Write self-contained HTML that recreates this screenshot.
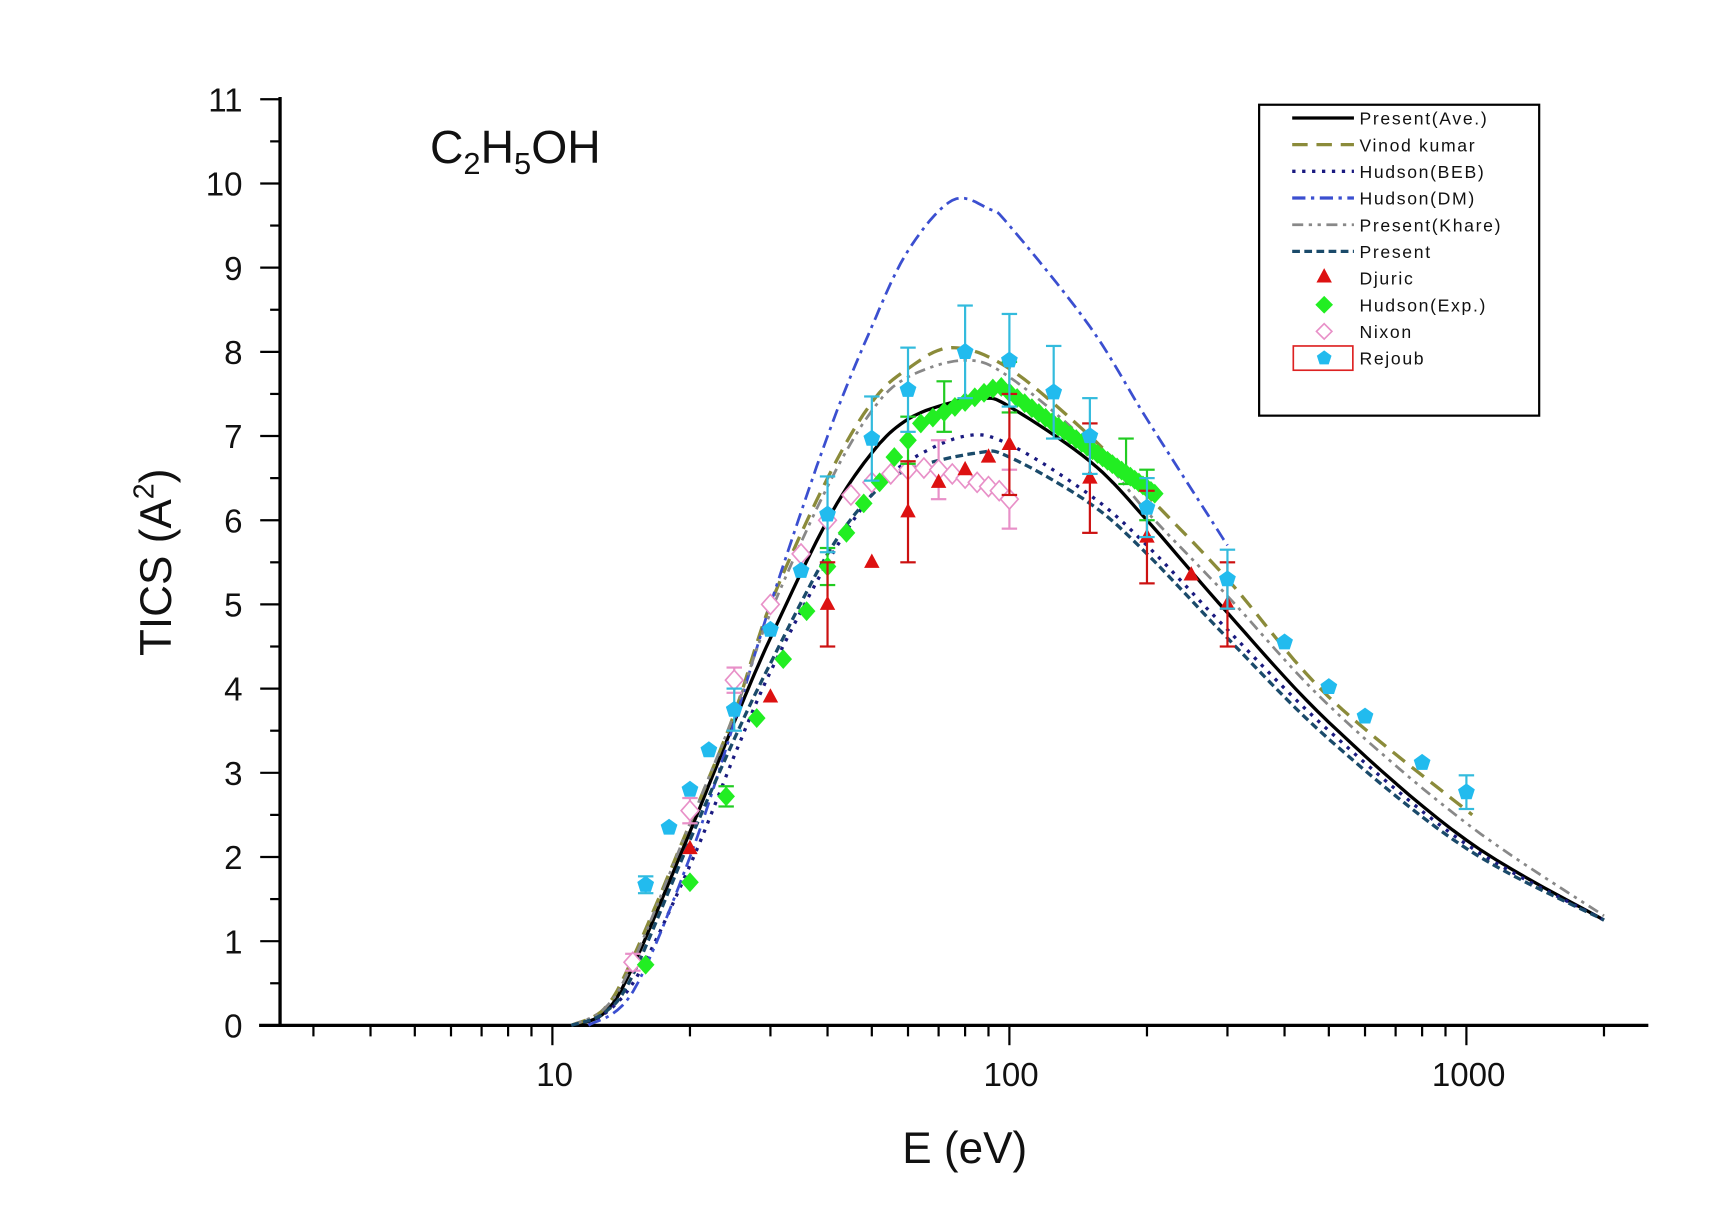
<!DOCTYPE html>
<html><head><meta charset="utf-8"><style>
html,body{margin:0;padding:0;background:#fff;width:1720px;height:1215px;overflow:hidden}
svg{display:block}
text{font-family:"Liberation Sans",Arial,sans-serif;fill:#111}
</style></head><body>
<svg id="s" width="1720" height="1215" viewBox="0 0 1560 1102" preserveAspectRatio="none" xmlns="http://www.w3.org/2000/svg">
<rect width="1560" height="1102" fill="#fff"/>
<g id="axes" stroke="#000" stroke-width="3" fill="none">
<line x1="254" y1="88" x2="254" y2="931"/>
<line x1="235" y1="930" x2="1495" y2="930"/>
</g>
<g id="ticks" stroke="#000" stroke-width="2"></g>
<g id="curves" fill="none"></g>
<g id="pts"></g>
<g font-size="30" text-anchor="end" id="ylab"></g>
<g font-size="30" text-anchor="middle">
<text x="503" y="985">10</text><text x="917" y="985">100</text><text x="1332" y="985">1000</text>
</g>
<text x="875" y="1055" font-size="40" text-anchor="middle">E (eV)</text>
<text transform="translate(155,510) rotate(-90)" font-size="40" text-anchor="middle">TICS (A<tspan font-size="26" dy="-16">2</tspan><tspan dy="16">)</tspan></text>
<text x="390" y="148" font-size="42">C<tspan font-size="28" dy="10">2</tspan><tspan dy="-10">H</tspan><tspan font-size="28" dy="10">5</tspan><tspan dy="-10">OH</tspan></text>
<g id="legend">
<rect x="1142" y="95" width="254" height="282" fill="#fff" stroke="#000" stroke-width="2"/>
</g>
</svg>
<script>
const NS="http://www.w3.org/2000/svg";
function X(E){return 501+414.5*Math.log10(E/10);}
function Y(v){return 930-76.36*v;}
function el(p,t,a){const e=document.createElementNS(NS,t);for(const k in a)e.setAttribute(k,a[k]);p.appendChild(e);return e;}
const tk=document.getElementById('ticks'),yl=document.getElementById('ylab');
for(let v=0;v<=11;v++){el(tk,'line',{x1:236,x2:254,y1:Y(v),y2:Y(v)});const t=el(yl,'text',{x:220,y:Y(v)+11});t.textContent=v;
 if(v<11)el(tk,'line',{x1:245,x2:254,y1:Y(v+0.5),y2:Y(v+0.5)});}
for(let d=1;d<=1000;d*=10)for(let m=1;m<10;m++){const E=d*m;if(E<3||E>2000)continue;const x=X(E);
 const maj=(m==1);el(tk,'line',{x1:x,x2:x,y1:930,y2:maj?948:940});}
function curve(pts,style){
 const P=pts.map(p=>[Math.log10(p[0]),p[1]]);let d="";
 for(let i=0;i<P.length-1;i++){const p0=P[Math.max(0,i-1)],p1=P[i],p2=P[i+1],p3=P[Math.min(P.length-1,i+2)];
  for(let s=0;s<=10;s++){const t=s/10,t2=t*t,t3=t2*t;
   const f=(a,b,c,e)=>0.5*((2*b)+(-a+c)*t+(2*a-5*b+4*c-e)*t2+(-a+3*b-3*c+e)*t3);
   const lx=f(p0[0],p1[0],p2[0],p3[0]),ly=f(p0[1],p1[1],p2[1],p3[1]);
   d+=(d?"L":"M")+X(Math.pow(10,lx)).toFixed(1)+","+Y(Math.max(0,ly)).toFixed(1);}}
 const a=Object.assign({d:d},style);el(document.getElementById('curves'),'path',a);}
curve([[11,0],[13,0.15],[15,0.7],[20,2.3],[25,3.6],[30,4.6],[40,6.0],[50,6.8],[60,7.2],[75,7.4],[88,7.45],[100,7.35],[150,6.7],[200,6.0],[300,4.9],[500,3.6],[1000,2.2],[2000,1.25]],{stroke:"#000","stroke-width":3});
curve([[11,0],[13,0.2],[15,0.8],[20,2.4],[25,3.7],[30,5.0],[40,6.5],[50,7.4],[60,7.8],[75,8.05],[100,7.8],[150,7.0],[200,6.3],[300,5.3],[500,3.9],[1030,2.5]],{stroke:"#8b8b3a","stroke-width":3,"stroke-dasharray":"14 8"});
curve([[12,0],[15,0.5],[20,1.9],[25,3.2],[30,4.2],[40,5.5],[50,6.3],[60,6.7],[80,7.0],[100,6.9],[150,6.3],[200,5.7],[300,4.7],[500,3.5],[1000,2.15],[2000,1.25]],{stroke:"#1a1a80","stroke-width":3,"stroke-dasharray":"3 6"});
curve([[12,0],[15,0.4],[20,2.0],[25,3.6],[30,5.0],[40,7.0],[50,8.3],[60,9.2],[75,9.8],[90,9.7],[100,9.5],[150,8.3],[200,7.2],[300,5.7]],{stroke:"#3b4fd0","stroke-width":2.5,"stroke-dasharray":"12 5 3 5"});
curve([[11,0],[13,0.2],[15,0.75],[20,2.4],[25,3.7],[30,4.9],[40,6.4],[50,7.3],[60,7.7],[80,7.9],[100,7.7],[150,6.9],[200,6.1],[300,5.1],[500,3.8],[1000,2.4],[2000,1.3]],{stroke:"#888","stroke-width":2.5,"stroke-dasharray":"10 5 3 5 3 5"});
curve([[11,0],[13,0.15],[15,0.6],[20,2.2],[25,3.4],[30,4.3],[40,5.6],[50,6.3],[60,6.6],[85,6.8],[100,6.75],[150,6.2],[200,5.6],[300,4.6],[500,3.4],[1000,2.1],[2000,1.25]],{stroke:"#1a4a6a","stroke-width":3,"stroke-dasharray":"7 4"});
const pg=document.getElementById('pts');
function err(E,v,e,c){const x=X(E);el(pg,'line',{x1:x,x2:x,y1:Y(v-e),y2:Y(v+e),stroke:c,"stroke-width":2});
 el(pg,'line',{x1:x-7,x2:x+7,y1:Y(v-e),y2:Y(v-e),stroke:c,"stroke-width":2});el(pg,'line',{x1:x-7,x2:x+7,y1:Y(v+e),y2:Y(v+e),stroke:c,"stroke-width":2});}
function tri(g,x,y,c){el(g,'polygon',{points:`${x},${y-8} ${x-7},${y+5} ${x+7},${y+5}`,fill:c});}
function dia(x,y,f,s){el(pg,'polygon',{points:`${x},${y-9} ${x+8},${y} ${x},${y+9} ${x-8},${y}`,fill:f,stroke:s||"none","stroke-width":1.5});}
function pent(x,y,c){let p="";for(let i=0;i<5;i++){const a=-Math.PI/2+i*2*Math.PI/5;p+=(x+8*Math.cos(a))+","+(y+8*Math.sin(a))+" ";}el(pg,'polygon',{points:p,fill:c});}
[[15,0.75,0.1],[20,2.55,0.15],[25,4.1,0.15],[30,5.0,0],[35,5.6,0],[40,6.0,0],[45,6.3,0],[50,6.45,0],[55,6.55,0],[60,6.6,0],[65,6.62,0],[70,6.6,0.35],[75,6.55,0],[80,6.5,0],[85,6.45,0],[90,6.4,0],[95,6.35,0],[100,6.25,0.35]].forEach(p=>{if(p[2])err(p[0],p[1],p[2],"#e890c8");dia(X(p[0]),Y(p[1]),"#fff","#e890c8");});
const h=[[16,0.72],[20,1.7],[24,2.72],[28,3.65],[32,4.35],[36,4.92],[40,5.45],[44,5.85],[48,6.2],[52,6.45],[56,6.75],[60,6.95],[64,7.15]];
for(let E=68;E<=210;E+=4){const l=Math.log10(E);let v;if(E<=95)v=7.15+(7.6-7.15)*(l-Math.log10(64))/(Math.log10(95)-Math.log10(64));else v=7.6-(7.6-6.3)*(l-Math.log10(95))/(Math.log10(210)-Math.log10(95));h.push([E,v]);}
[[24,2.72,0.12],[40,5.45,0.22],[60,6.95,0.28],[72,7.35,0.3],[100,7.58,0.3],[180,6.7,0.27],[200,6.3,0.3]].forEach(p=>err(p[0],p[1],p[2],"#22cc22"));
h.forEach(p=>dia(X(p[0]),Y(p[1]),"#22ee22"));
[[40,5.0,0.5],[60,6.1,0.6],[100,6.9,0.6],[150,6.5,0.65],[200,5.8,0.55],[300,5.0,0.5]].forEach(p=>err(p[0],p[1],p[2],"#cc1111"));
[[20,2.1],[30,3.9],[40,5.0],[50,5.5],[60,6.1],[70,6.45],[80,6.6],[90,6.75],[100,6.9],[150,6.5],[200,5.8],[250,5.35],[300,5.0]].forEach(p=>tri(pg,X(p[0]),Y(p[1]),"#dd1111"));
const r=[[16,1.67,0.1],[18,2.35,0],[20,2.8,0],[22,3.27,0],[25,3.75,0.25],[30,4.7,0],[35,5.4,0],[40,6.07,0.45],[50,6.97,0.5],[60,7.55,0.5],[80,8.0,0.55],[100,7.9,0.55],[125,7.52,0.55],[150,7.0,0.45],[200,6.15,0.35],[300,5.3,0.35],[400,4.55,0],[500,4.02,0],[600,3.67,0],[800,3.12,0],[1000,2.77,0.2]];
r.forEach(p=>{if(p[2])err(p[0],p[1],p[2],"#33bbdd");});r.forEach(p=>pent(X(p[0]),Y(p[1]),"#22bbee"));
const lg=document.getElementById('legend');
const items=[["Present(Ave.)",{stroke:"#000","stroke-width":3}],["Vinod kumar",{stroke:"#8b8b3a","stroke-width":3,"stroke-dasharray":"14 8"}],["Hudson(BEB)",{stroke:"#1a1a80","stroke-width":3,"stroke-dasharray":"3 6"}],["Hudson(DM)",{stroke:"#3b4fd0","stroke-width":3,"stroke-dasharray":"12 5 3 5"}],["Present(Khare)",{stroke:"#888","stroke-width":2.5,"stroke-dasharray":"10 5 3 5 3 5"}],["Present",{stroke:"#1a4a6a","stroke-width":3,"stroke-dasharray":"7 4"}],["Djuric"],["Hudson(Exp.)"],["Nixon"],["Rejoub"]];
items.forEach((it,i)=>{const y=107+i*24.2;
 if(it[1]){el(lg,'line',Object.assign({x1:1172,x2:1228,y1:y,y2:y},it[1]));}
 const t=el(lg,'text',{x:1233,y:y+6,"font-size":16,"letter-spacing":"1.5"});t.textContent=it[0];});
const ly=i=>107+i*24.2;
tri(lg,1201,ly(6)-1,"#dd1111");
el(lg,'polygon',{points:`1201,${ly(7)-8} 1209,${ly(7)} 1201,${ly(7)+8} 1193,${ly(7)}`,fill:"#22ee22"});
el(lg,'polygon',{points:`1201,${ly(8)-7} 1208,${ly(8)} 1201,${ly(8)+7} 1194,${ly(8)}`,fill:"#fff",stroke:"#e890c8","stroke-width":1.5});
el(lg,'rect',{x:1173,y:ly(9)-11,width:54,height:22,fill:"none",stroke:"#dd2222","stroke-width":1.5});
let p="";for(let i=0;i<5;i++){const a=-Math.PI/2+i*2*Math.PI/5;p+=(1201+7*Math.cos(a))+","+(ly(9)+7*Math.sin(a))+" ";}el(lg,'polygon',{points:p,fill:"#22bbee"});
</script>
</body></html>
